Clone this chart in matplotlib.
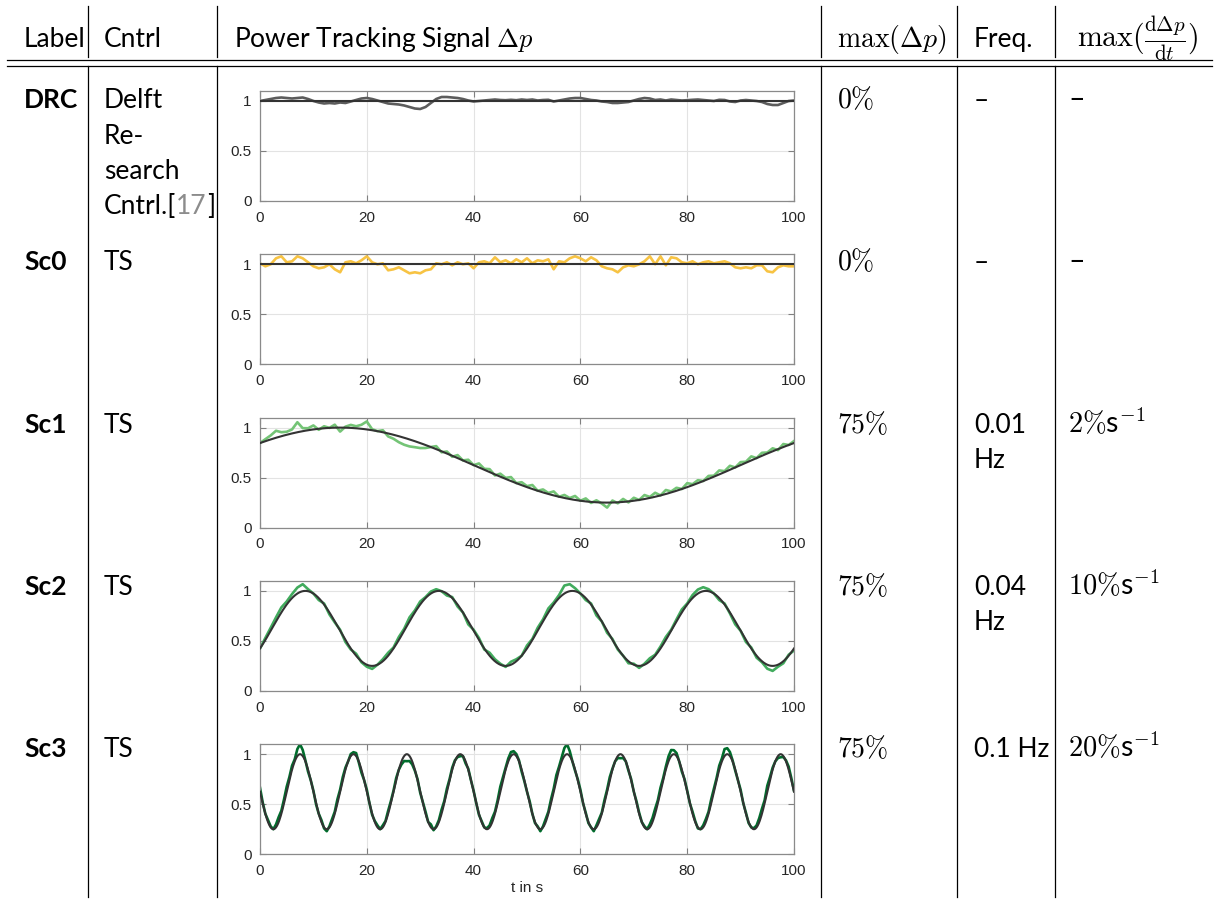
import numpy as np
import matplotlib.pyplot as plt

plt.rcParams['mathtext.fontset'] = 'cm'
plt.rcParams['font.family'] = ['Lato', 'DejaVu Sans']

W, H = 1218, 901

# table content
rows = ["DRC", "Sc0", "Sc1", "Sc2", "Sc3"]
ctrl = [["Delft", "Re-", "search", "Cntrl.["], ["TS"], ["TS"], ["TS"], ["TS"]]
max_dp = [0.0, 0.0, 0.75, 0.75, 0.75]
max_dp_txt = [r"$0\%$", r"$0\%$", r"$75\%$", r"$75\%$", r"$75\%$"]
freq = [0.0, 0.0, 0.01, 0.04, 0.1]
freq_txt = [["–"], ["–"], ["0.01", "Hz"], ["0.04", "Hz"], ["0.1 Hz"]]
slope_txt = ["–", "–", r"$2\%$s$^{-1}$", r"$10\%$s$^{-1}$", r"$20\%$s$^{-1}$"]
peak_t = [0.0, 0.0, 15.0, 8.5, 7.5]
colors = ["#5c5c5c", "#f7c343", "#74c476", "#41ab5d", "#006d2c"]

# tracking error of the measured power (1 s samples, Sc3 at 0.5 s)
dev_drc = [0.0, 0.01, 0.02, 0.03, 0.035, 0.03, 0.025, 0.03, 0.035, 0.02,
           0.0, -0.015, -0.025, -0.02, -0.025, -0.015, -0.02, -0.005, 0.01, 0.025,
           0.03, 0.02, 0.005, -0.01, -0.025, -0.03, -0.035, -0.045, -0.06, -0.075,
           -0.08, -0.06, -0.02, 0.02, 0.04, 0.04, 0.035, 0.03, 0.02, 0.005,
           -0.005, 0.0, 0.005, 0.01, 0.015, 0.01, 0.008, 0.012, 0.008, 0.015,
           0.01, 0.015, 0.005, 0.01, 0.012, -0.005, 0.005, 0.015, 0.025, 0.03,
           0.03, 0.02, 0.01, 0.005, -0.005, -0.01, -0.02, -0.02, -0.015, -0.01,
           0.005, 0.02, 0.03, 0.025, 0.01, 0.015, 0.005, 0.015, 0.01, 0.005,
           0.008, 0.012, 0.015, 0.01, 0.005, 0.0, 0.012, 0.01, -0.005, -0.01,
           0.005, 0.01, 0.005, 0.0, -0.01, -0.03, -0.04, -0.04, -0.02, 0.0,
           0.005]
dev_sc0 = [0.01, -0.02, 0.0, 0.06, 0.08, 0.02, 0.03, 0.08, 0.06, 0.02,
           -0.02, -0.04, -0.03, 0.0, -0.05, -0.08, 0.02, 0.03, 0.01, 0.04,
           0.08, 0.02, 0.0, 0.01, -0.06, -0.05, -0.03, -0.06, -0.09, -0.08,
           -0.09, -0.06, -0.05, 0.01, 0.0, 0.02, -0.01, 0.02, 0.0, 0.01,
           -0.04, 0.02, 0.03, 0.01, 0.07, 0.02, 0.04, 0.01, 0.05, 0.02,
           0.06, 0.01, 0.04, 0.03, 0.05, -0.05, 0.03, 0.02, 0.06, 0.08,
           0.06, 0.03, 0.07, 0.04, -0.02, -0.04, -0.05, -0.08, -0.03, -0.01,
           -0.02, 0.0, 0.03, 0.08, 0.0, 0.08, -0.01, 0.07, 0.06, 0.02,
           0.01, 0.03, 0.0, 0.02, 0.03, 0.01, 0.02, 0.03, 0.01, -0.03,
           -0.04, -0.03, -0.04, -0.01, -0.01, -0.07, -0.08, -0.03, -0.01, -0.02,
           -0.02]
dev_sc1 = [0.0, 0.02, 0.04, 0.07, 0.04, 0.03, 0.04, 0.1, 0.03, 0.02,
           0.04, -0.01, 0.02, 0.0, 0.03, -0.04, 0.01, 0.03, 0.02, 0.04,
           0.08, 0.01, 0.0, 0.02, -0.03, -0.04, -0.06, -0.07, -0.07, -0.06,
           -0.05, -0.03, 0.0, 0.03, -0.01, 0.02, -0.01, 0.03, 0.0, 0.03,
           0.0, 0.04, 0.01, 0.03, -0.01, 0.03, 0.01, 0.04, 0.0, 0.03,
           0.01, 0.04, 0.0, 0.03, 0.01, 0.04, 0.0, 0.03, 0.01, 0.04,
           0.0, 0.03, -0.01, 0.02, -0.01, -0.05, 0.02, -0.01, 0.03, -0.01,
           0.03, 0.0, 0.04, 0.01, 0.04, 0.0, 0.04, 0.01, 0.03, 0.0,
           0.04, 0.01, 0.03, 0.0, 0.03, 0.01, 0.04, 0.01, 0.04, 0.0,
           0.03, 0.01, 0.04, 0.0, 0.03, 0.01, 0.03, -0.01, 0.03, 0.0,
           0.02]
dev_sc2 = [0.0, 0.02, 0.03, 0.04, 0.05, 0.03, 0.04, 0.06, 0.07, 0.02,
           0.0, -0.02, 0.01, -0.02, -0.01, 0.01, -0.02, -0.01, 0.02, -0.01,
           -0.02, -0.03, 0.0, 0.02, 0.03, 0.01, 0.03, 0.02, 0.04, 0.02,
           0.03, 0.01, 0.02, 0.02, 0.0, -0.02, 0.01, -0.02, 0.0, -0.03,
           0.01, 0.02, -0.01, 0.03, 0.02, 0.01, -0.01, 0.03, 0.02, 0.0,
           0.03, 0.01, 0.03, 0.02, 0.04, 0.02, 0.03, 0.08, 0.07, 0.03,
           0.0, -0.02, 0.01, -0.03, 0.0, -0.02, 0.01, -0.01, 0.0, -0.02,
           0.01, -0.02, 0.01, 0.03, 0.01, 0.02, 0.03, 0.01, 0.02, 0.03,
           0.01, 0.03, 0.04, 0.04, 0.02, 0.0, -0.02, 0.01, -0.01, -0.03,
           0.0, -0.02, 0.01, -0.02, -0.01, -0.04, -0.05, -0.02, -0.02, 0.01,
           -0.02]
dev_sc3 = [0.04, 0.01, 0.0, 0.02, 0.01, 0.0, 0.03, 0.05, 0.03, 0.04,
           0.05, 0.03, 0.04, 0.02, 0.07, 0.10, 0.06, 0.01, -0.02, 0.0,
           0.01, -0.01, 0.0, 0.02, -0.01, -0.02, 0.01, 0.03, 0.02, 0.04,
           0.02, 0.03, 0.02, 0.0, 0.02, 0.02, 0.03, -0.01, -0.03, 0.0,
           0.02, 0.0, -0.01, 0.01, 0.02, 0.0, 0.02, 0.01, 0.03, 0.02,
           0.01, 0.02, 0.0, -0.03, -0.05, -0.07, -0.05, -0.03, -0.01, 0.01,
           -0.01, 0.01, 0.02, 0.0, 0.03, -0.01, 0.01, 0.02, 0.04, 0.02,
           0.03, 0.01, 0.02, 0.01, -0.01, -0.02, 0.0, -0.02, 0.01, 0.0,
           0.01, 0.0, -0.01, 0.01, 0.0, 0.01, 0.02, 0.04, 0.02, 0.03,
           0.05, 0.03, 0.02, 0.03, 0.04, 0.03, 0.02, 0.01, -0.02, -0.01,
           0.0, 0.02, 0.0, -0.01, 0.01, -0.02, 0.01, 0.03, 0.02, 0.04,
           0.03, 0.05, 0.03, 0.04, 0.08, 0.10, 0.05, 0.0, -0.01, 0.01,
           0.02, 0.0, 0.01, -0.01, 0.0, -0.02, 0.02, 0.03, 0.01, 0.03,
           0.02, 0.03, 0.01, 0.0, -0.02, -0.04, -0.02, 0.0, -0.01, 0.01,
           0.0, 0.02, 0.01, 0.0, 0.01, 0.0, 0.03, 0.04, 0.05, 0.03,
           0.04, 0.02, 0.03, 0.05, 0.06, 0.04, 0.03, 0.0, -0.02, 0.01,
           0.01, 0.0, 0.02, 0.01, -0.01, 0.0, 0.02, 0.03, 0.02, 0.04,
           0.03, 0.02, 0.04, 0.03, 0.07, 0.06, 0.04, 0.01, -0.01, 0.0,
           0.02, 0.0, 0.01, -0.01, 0.0, 0.01, 0.02, 0.04, 0.05, 0.03,
           0.06, 0.03, 0.02, 0.0, -0.02, -0.03, -0.01, 0.01, 0.03, 0.02,
           0.01]
devs = [dev_drc, dev_sc0, dev_sc1, dev_sc2, dev_sc3]


def ref_signal(t, i):
    # power set point: oscillates between 1 and 1 - max_dp at the given frequency
    lo = 1.0 - max_dp[i]
    mid, amp = (1.0 + lo) / 2, (1.0 - lo) / 2
    return mid + amp * np.cos(2 * np.pi * freq[i] * (t - peak_t[i]))


def fx(x):
    return x / W


def fy(y):
    return 1 - y / H


fig = plt.figure(figsize=(W / 100, H / 100), dpi=100)

# table rules
line_kw = dict(color="black", lw=0.9)
for y in (60, 66):
    fig.add_artist(plt.Line2D([fx(7), fx(1212)], [fy(y), fy(y)], **line_kw))
for x in (88, 217, 821, 957, 1055):
    fig.add_artist(plt.Line2D([fx(x), fx(x)], [fy(6), fy(57)], **line_kw))
    fig.add_artist(plt.Line2D([fx(x), fx(x)], [fy(66), fy(897)], **line_kw))

fs = 19
ms = 20
hdr_y = 47
fig.text(fx(24), fy(hdr_y), "Label", fontsize=fs, va="baseline")
fig.text(fx(104), fy(hdr_y), "Cntrl", fontsize=fs, va="baseline")
fig.text(fx(234), fy(hdr_y), r"Power Tracking Signal $\Delta p$", fontsize=fs, va="baseline")
fig.text(fx(837), fy(hdr_y), r"$\max(\Delta p)$", fontsize=ms, va="baseline")
fig.text(fx(974), fy(hdr_y), "Freq.", fontsize=fs, va="baseline")
fig.text(fx(1077), fy(hdr_y),
         r"$\max(\frac{\mathrm{d}\Delta p}{\mathrm{d}t})$", fontsize=ms + 1.5, va="baseline")

row_gap = 162.3
line_gap = 35.5
zero_px = 201
for i, name in enumerate(rows):
    base = 108 + i * row_gap
    fig.text(fx(24), fy(base), name, fontsize=fs, fontweight="bold", va="baseline")
    for j, s in enumerate(ctrl[i]):
        fig.text(fx(104), fy(base + j * line_gap), s, fontsize=fs, va="baseline")
    fig.text(fx(837), fy(base), max_dp_txt[i], fontsize=ms, va="baseline")
    for j, s in enumerate(freq_txt[i]):
        fig.text(fx(974), fy(base + j * line_gap), s, fontsize=fs, va="baseline")
    fig.text(fx(1068), fy(base), slope_txt[i], fontsize=ms + 0.5, va="baseline")

    # signal plot
    y0 = zero_px + i * 163.3
    ax = fig.add_axes([fx(260), fy(y0), fx(534), 110 / H])
    t_ref = np.linspace(0, 100, 1001)
    dev = np.array(devs[i])
    t_meas = np.linspace(0, 100, len(dev))
    meas = ref_signal(t_meas, i) + dev
    ax.plot(t_ref, ref_signal(t_ref, i), color="#333333", lw=1.5, zorder=3)
    ax.plot(t_meas, meas, color=colors[i], lw=1.9, zorder=2)
    ax.set_xlim(0, 100)
    ax.set_ylim(0, 1.1)
    ax.set_xticks(range(0, 101, 20))
    ax.set_yticks([0, 0.5, 1])
    ax.set_yticklabels(["0", "0.5", "1"])
    ax.grid(True, color="#e3e3e3", lw=0.8)
    ax.set_axisbelow(True)
    ax.tick_params(direction="in", top=True, right=True, length=4, width=0.8,
                   color="#808080", labelsize=11, labelcolor="#262626")
    ax.tick_params(axis="x", pad=7)
    ax.tick_params(axis="y", pad=6)
    for lbl in ax.get_xticklabels() + ax.get_yticklabels():
        lbl.set_fontfamily("Liberation Sans")
    for sp in ax.spines.values():
        sp.set_color("#8a8a8a")
        sp.set_linewidth(0.9)
    if i == len(rows) - 1:
        ax.set_xlabel("t in s", fontsize=11, color="#262626",
                      fontfamily="Liberation Sans", labelpad=2)

# citation number after "Cntrl.["
fig.canvas.draw()
r = fig.canvas.get_renderer()
cntrl_txt = [t for t in fig.texts if t.get_text() == "Cntrl.["][0]
bb = cntrl_txt.get_window_extent(r)
cite_y = fy(108 + 3 * line_gap)
t17 = fig.text(bb.x1 / W, cite_y, "17", fontsize=fs, va="baseline", color="#8c8c8c")
bb17 = t17.get_window_extent(r)
fig.text(bb17.x1 / W, cite_y, "]", fontsize=fs, va="baseline")

fig.savefig("out.png", dpi=100)
